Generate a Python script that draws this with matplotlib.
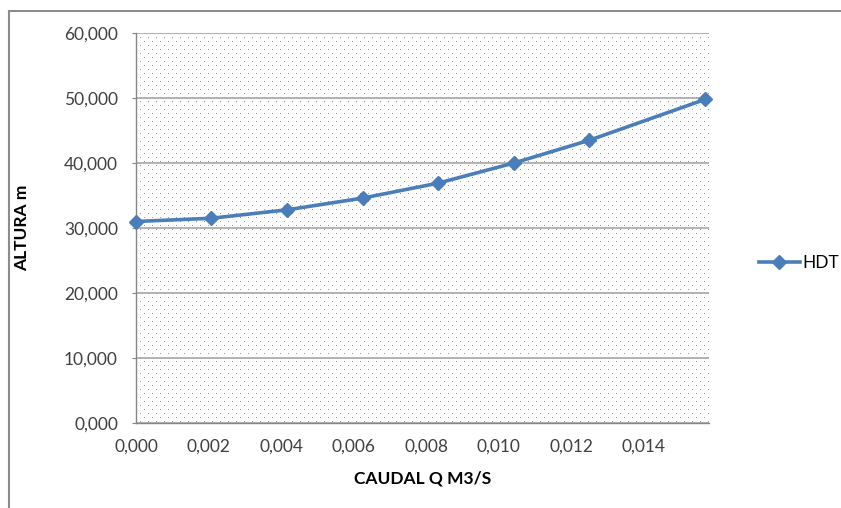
import numpy as np
import matplotlib.pyplot as plt
from matplotlib.ticker import FuncFormatter, MultipleLocator
from matplotlib.lines import Line2D

plt.rcParams['font.family'] = ['Lato', 'DejaVu Sans']

# Caudal (m3/s) y altura dinamica total (m)
caudal = [0.0, 0.00208, 0.00417, 0.00625, 0.00833, 0.01042, 0.0125, 0.0157]
hdt = [31.0, 31.5, 32.8, 34.6, 36.9, 40.0, 43.5, 49.8]
serie = "HDT"

W, H = 841, 508
fig = plt.figure(figsize=(W / 100, H / 100), dpi=100)
fig.patch.set_facecolor('white')

# borde del area del grafico
fig.add_artist(Line2D([8.5 / W, 8.5 / W], [0, 1 - 10.5 / H], color='#8c8c8c', lw=1.5))
fig.add_artist(Line2D([8.5 / W, 1], [1 - 10.5 / H, 1 - 10.5 / H], color='#8c8c8c', lw=1.5))

left, right, top, bottom = 136, 709, 33, 423
ax = fig.add_axes([left / W, 1 - bottom / H, (right - left) / W, (bottom - top) / H])

# fondo punteado tipo trama 10%
pw, ph = right - left, bottom - top
pat = np.ones((ph, pw, 4))
pat[..., 3] = 0
yy, xx = np.mgrid[0:ph, 0:pw]
m1 = (xx % 8 == 0) & (yy % 8 == 0)
m2 = (xx % 8 == 4) & (yy % 8 == 4)
for m in (m1, m2):
    pat[m] = [0.4, 0.56, 0.8, 0.85]
ax.imshow(pat, extent=[0, 1, 0, 1], transform=ax.transAxes, aspect='auto',
          zorder=0, interpolation='nearest')

ax.set_xlim(0, 0.0158)
ax.set_ylim(0, 60)
ax.yaxis.set_major_locator(MultipleLocator(10))
ax.set_xticks(np.arange(0, 0.0141, 0.002))

fmt = FuncFormatter(lambda v, p: f"{v:.3f}".replace('.', ','))
ax.xaxis.set_major_formatter(fmt)
ax.yaxis.set_major_formatter(fmt)

ax.grid(axis='y', color='#a6a6a6', lw=1.2, zorder=1)
ax.set_axisbelow(True)
for s in ('top', 'right'):
    ax.spines[s].set_visible(False)
for s in ('left', 'bottom'):
    ax.spines[s].set_color('#868686')
    ax.spines[s].set_linewidth(1)
ax.tick_params(axis='y', length=3, color='#868686', labelsize=12.5, labelcolor='#404040', pad=10)
ax.tick_params(axis='x', length=0, labelsize=12.5, labelcolor='#404040', pad=11)

ax.plot(caudal, hdt, color='#4a7ebb', lw=2.6, marker='D', markersize=6.8,
        markeredgecolor='#4a7ebb', label=serie, zorder=3, clip_on=False)

ax.set_xlabel("CAUDAL Q M3/S", fontsize=12.5, fontweight='bold')
ax.set_ylabel("ALTURA m", fontsize=12.5, fontweight='bold')
ax.xaxis.set_label_coords(0.5, -(470 - bottom) / ph)
ax.yaxis.set_label_coords(-(left - 30) / pw, 0.5)

ax.legend(loc='center left', bbox_to_anchor=(743 / W, 1 - 263 / H),
          bbox_transform=fig.transFigure, frameon=False, fontsize=12.5,
          handlelength=2.4, handletextpad=0.1)

fig.savefig("out.png", dpi=100)
